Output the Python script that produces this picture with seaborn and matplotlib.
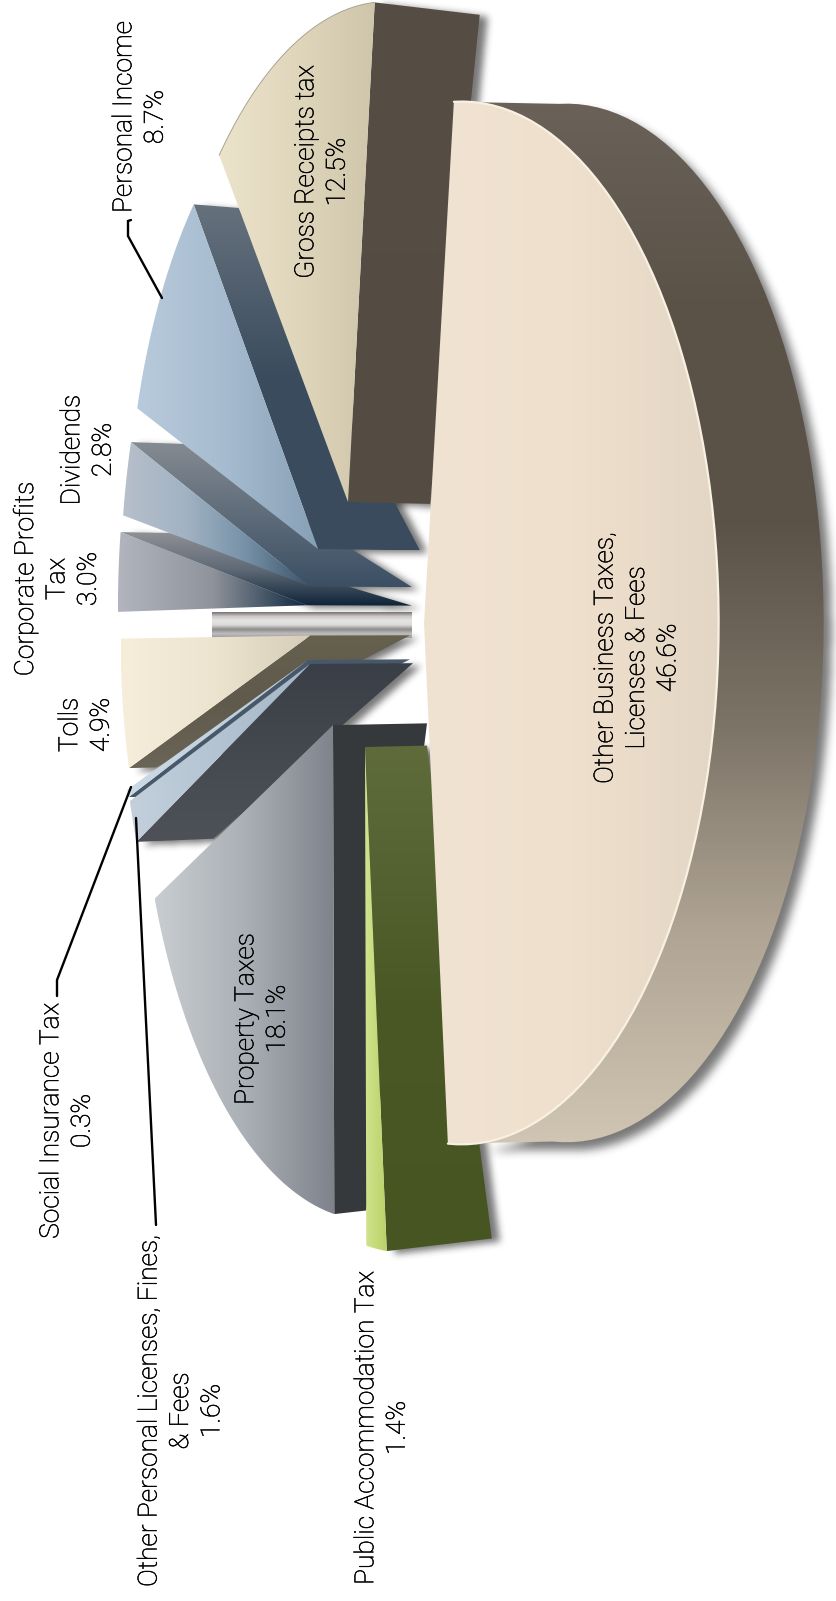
import numpy as np
import seaborn as sns
import matplotlib
matplotlib.use("Agg")
import matplotlib.pyplot as plt
import matplotlib.patheffects as pe
from matplotlib.patches import Polygon
from matplotlib.path import Path

sns.set_theme(style="white")
plt.rcParams['font.family'] = ['Roboto', 'Liberation Sans', 'DejaVu Sans']

# ---- data -----------------------------------------------------------
names = ["Other Business", "Public Accommodation", "Property", "Other Personal",
         "Social Insurance", "Tolls", "Corporate Profits", "Dividends",
         "Personal Income", "Gross Receipts"]
shares = [46.6, 1.4, 18.1, 1.6, 0.3, 4.9, 3.0, 2.8, 8.7, 12.5]
label_texts = ["Other Business Taxes,\nLicenses & Fees\n46.6%",
               "Public Accommodation Tax\n1.4%",
               "Property Taxes\n18.1%",
               "Other Personal Licenses, Fines,\n& Fees\n1.6%",
               "Social Insurance Tax\n0.3%",
               "Tolls\n4.9%",
               "Corporate Profits\nTax\n3.0%",
               "Dividends\n2.8%",
               "Personal Income\n8.7%",
               "Gross Receipts tax\n12.5%"]

# ---- layout: explode of each slice in disc units, wall depth in px ---
explode_u = [.105, -.138, -.277, -.3805, -.3896, -.38, -.395, -.38, -.3441, -.2111]
explode_v = [-.002, .247, .207, .083, .0749, .024, -.039, -.078, -.155, -.2475]
rim_x = [1.0, .98, .98, .98, .98, .98, .98, .98, .98, .98]
wall_rim = [105, 105, 32, 77, 8, 27, 49, 54, 45, 105]
wall_apex = [105, 62, 94, 103, 102, 100, 105, 102, 102, 82]
wall_side = [0, 0, 0, 0, 0, 0, 1, 1, 1, 1]   # 0 start edge, 1 end edge
wall_taper = [.004, .02, .02, .02, .02, .02, .02, .02, .02, .02]
label_pos = [(637, 658), (382, 1428), (262, 1019), (181, 1411), (67, 1121),
             (86, 725), (57, 579), (88, 450), (140, 117), (322, 172)]
START_ANGLE = -83.3
W, H = 837, 1601
CX, CY, A, B, K = 398, 624, 244, 508, .144
FS = 19

face_cols = [["#f1e3d2", "#efe0cd", "#e3d6c4"], ["#d2e38e", "#b9d268"], ["#c9cdd1", "#abb0b6", "#7e828b"],
             ["#c3d0dc", "#a4b6c6"], ["#cbdae5", "#b7c9d7"], ["#f6eedb", "#ece4cf", "#d5cdb8"],
             ["#b2b5bd", "#8f939b", "#0f2840"], ["#b7bfca", "#a2b3c4", "#7590a6", "#3d5368"],
             ["#b8cbdc", "#a6bbcf", "#87a0b6"], ["#ebe3cb", "#e0d6bc", "#cfc5ab"]]
wall_cols = [["#6a6158", "#5a5147", "#5a5147", "#7d7468", "#b0a594", "#d0c4b2"],
             ["#5f6b3b", "#4a5826", "#475522"], ["#36393c", "#363a3c"], ["#3a3f47", "#4e5258"],
             ["#47586a", "#47586a"], ["#66604f", "#5f5a4c", "#6b6558"],
             ["#8f9196", "#5f6a76", "#0f2438"], ["#858b92", "#5f6c7a", "#3b4f64"],
             ["#66717d", "#3a4c5e", "#394b5d"], ["#564e45", "#544c43"]]
band_cols = ["#757171", "#cfcaca", "#e6e3e3", "#dcd9d9", "#8d8a8a", "#c0bdbd", "#9a9797"]
shadow_on = [True, True, False, True, False, True, True, True, True, True]


def project(u, v):
    d = 1 - K * u
    return CX + A * u / d, CY + B * v / d


def face_pts(i, t0, t1):
    t = np.radians(np.linspace(t0, t1, 80))
    u = explode_u[i] + rim_x[i] * np.cos(t)
    v = explode_v[i] + np.sin(t)
    x, y = project(u, v)
    ax0, ay0 = project(explode_u[i], explode_v[i])
    return np.column_stack([x, y]), (ax0, ay0)


def extrude(p, depth, taper):
    return np.array([p[0] + depth, p[1] - taper * (p[1] - CY) * depth / 105])


def gradient(ax, pts, cols, axis, z):
    cmap = sns.blend_palette(cols, as_cmap=True)
    pts = np.asarray(pts)
    x0, x1, y0, y1 = pts[:, 0].min(), pts[:, 0].max(), pts[:, 1].min(), pts[:, 1].max()
    g = np.linspace(0, 1, 256)
    arr = g[None, :] if axis == "x" else g[:, None]
    im = ax.imshow(arr, cmap=cmap, extent=(x0, x1, y1, y0), aspect="auto", zorder=z,
                   origin="upper", interpolation="bilinear")
    im.set_clip_path(Polygon(pts, closed=True, transform=ax.transData))


def blur(a, r):
    k = np.ones(2 * r + 1) / (2 * r + 1)
    for _ in range(3):
        a = np.apply_along_axis(lambda s: np.convolve(s, k, mode="same"), 0, a)
        a = np.apply_along_axis(lambda s: np.convolve(s, k, mode="same"), 1, a)
    return a


def shadow(ax, pts, z, off=(7, 3), r=3, strength=.6):
    pts = np.asarray(pts) + np.array(off)
    pad = 4 * r + 2
    x0, y0 = np.floor(pts.min(axis=0)) - pad
    x1, y1 = np.ceil(pts.max(axis=0)) + pad
    xs = np.arange(x0, x1) + .5
    ys = np.arange(y0, y1) + .5
    gx, gy = np.meshgrid(xs, ys)
    m = Path(pts).contains_points(np.column_stack([gx.ravel(), gy.ravel()])).reshape(gx.shape)
    a = blur(m.astype(float), r)
    rgba = np.zeros(a.shape + (4,))
    rgba[..., :3] = .12
    rgba[..., 3] = a * strength
    ax.imshow(rgba, extent=(x0, x1, y1, y0), aspect="auto", zorder=z, origin="upper",
              interpolation="bilinear")


fig = plt.figure(figsize=(W / 100, H / 100), dpi=100)
ax = fig.add_axes([0, 0, 1, 1])

# angular extents computed from the values
sweep = np.array(shares) / sum(shares) * 360
ends = START_ANGLE + np.cumsum(sweep)
starts = ends - sweep

order = [6, 7, 8, 9, 5, 4, 3, 2, 1, 0]
# gap band between Tolls and Corporate Profits
band = [(212, 612), (412, 612), (412, 638), (212, 638)]
gradient(ax, band, band_cols, "y", 2)
z = 3
for i in order:
    rim, apex = face_pts(i, starts[i], ends[i])
    face = np.vstack([[apex], rim])
    if i == 0:
        wall = np.vstack([rim, [extrude(p, wall_rim[0], wall_taper[0]) for p in rim[::-1]]])
    else:
        r = rim[-1] if wall_side[i] else rim[0]
        wall = np.array([r, extrude(r, wall_rim[i], wall_taper[i]),
                         extrude(apex, wall_apex[i], wall_taper[i]), apex])
    if shadow_on[i]:
        if i == 0:
            shadow(ax, wall, 1, off=(8, 8), r=4, strength=.6)
        else:
            shadow(ax, wall, 1, off=(8, 3), r=3, strength=.6)
    gradient(ax, wall, wall_cols[i], "y", z + .2)
    gradient(ax, face, face_cols[i], "x", z + .4)
    if i == 0:
        ax.plot(rim[:, 0], rim[:, 1], color="#f8f1e2", lw=1.6, zorder=z + .5)
    if i == 9:
        ax.plot(rim[:, 0], rim[:, 1], color="#a9a590", lw=.7, zorder=z + .5)
    z += 1

# leader lines
leaders = [[(131, 220), (128, 221), (128, 236), (162, 298)],
           [(131, 787), (57, 980), (57, 996)],
           [(136, 818), (156, 1225)]]
for ln in leaders:
    a = np.array(ln)
    ax.plot(a[:, 0], a[:, 1], color="black", lw=1.7, zorder=40, solid_joinstyle="miter")

for txt, (x, y) in zip(label_texts, label_pos):
    t = ax.text(x, y, txt, rotation=90, ha="center", va="center", ma="center",
                fontsize=FS, fontweight="light", color="black", linespacing=1.39, zorder=50)
    t.set_path_effects([pe.withStroke(linewidth=.35, foreground="black")])

ax.set_xlim(0, W)
ax.set_ylim(H, 0)
ax.axis("off")
fig.savefig("out.png", dpi=100)
